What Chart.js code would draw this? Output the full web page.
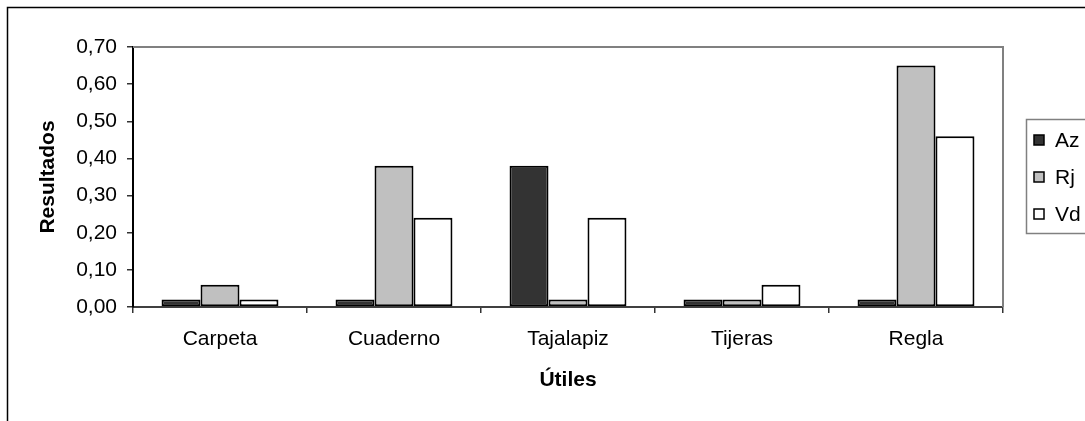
<!DOCTYPE html>
<html>
<head>
<meta charset="utf-8">
<script src="https://cdn.jsdelivr.net/npm/chart.js@4"></script>
<style>
html,body{margin:0;padding:0;background:#fff;overflow:hidden;}
#wrap{position:relative;width:1085px;height:421px;}
canvas{display:block;}
</style>
</head>
<body>
<div id="wrap"><canvas id="c" width="1085" height="421"></canvas></div>
<script>
const categories = ['Carpeta', 'Cuaderno', 'Tajalapiz', 'Tijeras', 'Regla'];
const seriesNames = ['Az', 'Rj', 'Vd'];
const azValues = [0.02, 0.02, 0.38, 0.02, 0.02];
const rjValues = [0.06, 0.38, 0.02, 0.02, 0.65];
const vdValues = [0.02, 0.24, 0.24, 0.06, 0.46];
const yTickLabels = ['0,00', '0,10', '0,20', '0,30', '0,40', '0,50', '0,60', '0,70'];
const xTitle = 'Útiles';
const yTitle = 'Resultados';

const FONT = "'Liberation Sans', Arial, sans-serif";

const framePlugin = {
  id: 'frame',
  beforeDraw(chart) {
    const ctx = chart.ctx;
    ctx.save();
    ctx.fillStyle = '#fff';
    ctx.fillRect(0, 0, chart.width, chart.height);
    ctx.strokeStyle = '#000';
    ctx.lineWidth = 1.5;
    ctx.strokeRect(7.5, 7.5, 3000, 3000);
    ctx.restore();
  },
  beforeDatasetsDraw(chart) {
    const {ctx, chartArea: a} = chart;
    ctx.save();
    ctx.strokeStyle = '#808080';
    ctx.lineWidth = 2;
    ctx.beginPath();
    ctx.moveTo(a.left, a.top);
    ctx.lineTo(a.right, a.top);
    ctx.lineTo(a.right, a.bottom);
    ctx.stroke();
    ctx.restore();
  },
  afterDraw(chart) {
    const ctx = chart.ctx;
    const ds = chart.data.datasets;
    ctx.save();
    const bx = 1026, by = 119, bh = 114;
    ctx.strokeStyle = '#808080';
    ctx.lineWidth = 1.5;
    ctx.strokeRect(bx + 0.5, by + 0.5, 200, bh);
    ctx.font = '21px ' + FONT;
    ctx.textBaseline = 'middle';
    ctx.textAlign = 'left';
    ds.forEach((d, i) => {
      const cy = 140 + i * 37;
      ctx.fillStyle = d.backgroundColor;
      ctx.fillRect(1034, cy - 5, 10, 10);
      ctx.strokeStyle = '#000';
      ctx.lineWidth = 1.5;
      ctx.strokeRect(1034, cy - 5, 10, 10);
      ctx.fillStyle = '#000';
      ctx.fillText(d.label, 1055, cy + 1);
    });
    ctx.restore();
  }
};

new Chart(document.getElementById('c'), {
  type: 'bar',
  data: {
    labels: categories,
    datasets: [
      {label: seriesNames[0], data: azValues, backgroundColor: '#333333'},
      {label: seriesNames[1], data: rjValues, backgroundColor: '#C0C0C0'},
      {label: seriesNames[2], data: vdValues, backgroundColor: '#FFFFFF'}
    ]
  },
  options: {
    responsive: false,
    animation: false,
    devicePixelRatio: 1,
    layout: {padding: {top: 47, right: 82, left: 0, bottom: 0}},
    datasets: {
      bar: {
        borderColor: '#000',
        borderWidth: 2,
        borderSkipped: false,
        categoryPercentage: 0.672,
        barPercentage: 1.0
      }
    },
    plugins: {
      legend: {display: false},
      tooltip: {enabled: false}
    },
    scales: {
      x: {
        afterFit(s) { s.height = 114; },
        grid: {display: true, drawOnChartArea: false, drawTicks: true, tickLength: 6, color: '#333', lineWidth: 1.5, offset: true},
        border: {display: true, color: '#404040', width: 2},
        ticks: {color: '#000', padding: 14, font: {family: FONT, size: 21}, maxRotation: 0},
        title: {display: true, text: xTitle, color: '#000', font: {family: FONT, size: 21, weight: 'bold'}, padding: {top: 0, bottom: 28}}
      },
      y: {
        min: 0, max: 0.7,
        afterFit(s) { s.width = 133; },
        grid: {display: true, drawOnChartArea: false, drawTicks: true, tickLength: 6, color: '#333', lineWidth: 1.5},
        border: {display: true, color: '#000', width: 2},
        ticks: {
          stepSize: 0.1, color: '#000', padding: 10,
          font: {family: FONT, size: 21},
          callback: (v, i) => yTickLabels[i]
        },
        title: {display: true, text: yTitle, color: '#000', font: {family: FONT, size: 21, weight: 'bold'}, padding: {top: 36, bottom: 0}}
      }
    }
  },
  plugins: [framePlugin]
});
</script>
</body>
</html>
